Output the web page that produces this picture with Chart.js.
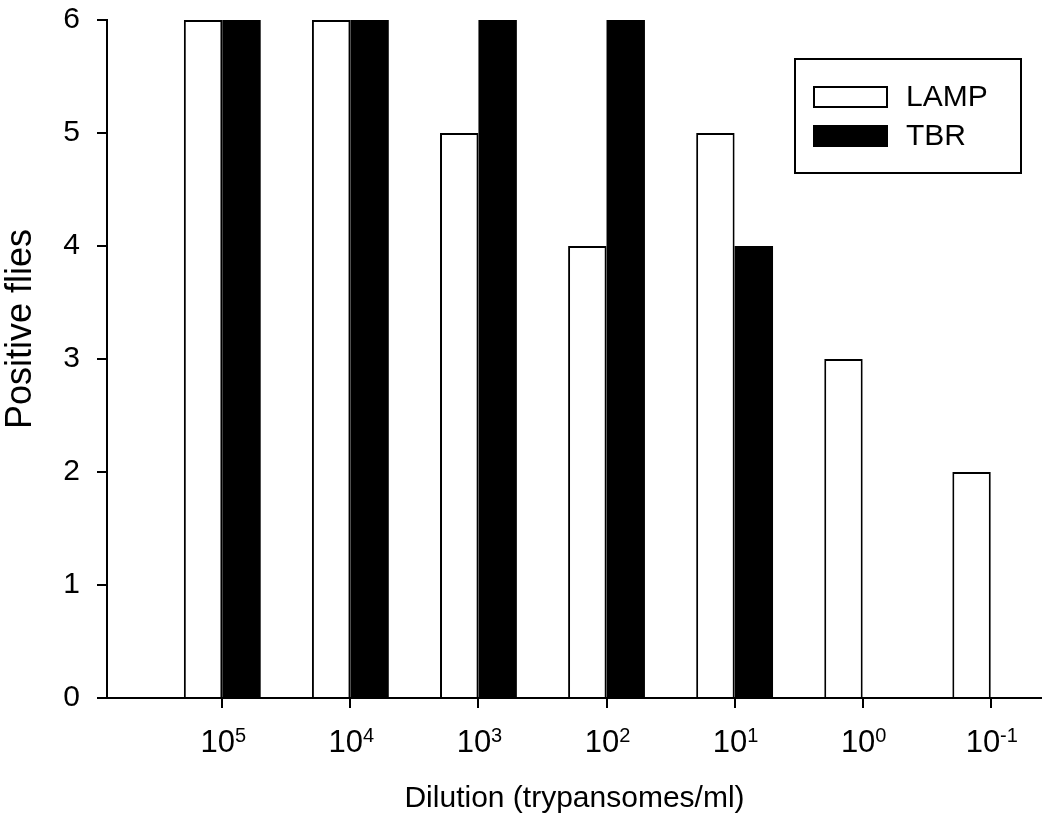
<!DOCTYPE html>
<html>
<head>
<meta charset="utf-8">
<title>Positive flies by dilution</title>
<script src="https://cdn.jsdelivr.net/npm/chart.js@4.4.1/dist/chart.umd.min.js"></script>
<style>
  html, body { margin: 0; padding: 0; background: #fff; }
  #wrap { width: 1042px; height: 820px; }
</style>
</head>
<body>
<div id="wrap"><canvas id="fliesChart"></canvas></div>
<script>
// Data
const dilutionBase = '10';
const dilutionExponents = ['5', '4', '3', '2', '1', '0', '-1'];
const lampValues = [6, 6, 5, 4, 5, 3, 2];
const tbrValues = [6, 6, 6, 6, 4, 0, 0];
const yTicks = [0, 1, 2, 3, 4, 5, 6];

const FONT = "'Liberation Sans', Arial, Helvetica, sans-serif";

// bars sit on a linear x scale so the axis can run past the first/last group
const toPoints = (arr) => arr.map((v, i) => ({ x: i, y: v }));

// boxed legend like the original (Chart.js legend has no frame)
const boxLegend = {
    id: 'boxLegend',
    afterDraw(chart, args, opts) {
        const ctx = chart.ctx;
        ctx.save();
        ctx.lineWidth = 2;
        ctx.strokeStyle = '#000';
        ctx.strokeRect(opts.x, opts.y, opts.w, opts.h);
        ctx.font = '30px ' + FONT;
        ctx.textBaseline = 'middle';
        chart.data.datasets.forEach((ds, i) => {
            const cy = opts.y + opts.firstRow + i * opts.rowGap;
            ctx.fillStyle = ds.backgroundColor;
            ctx.fillRect(opts.x + 19, cy - 10, 73, 20);
            ctx.lineWidth = 2;
            ctx.strokeRect(opts.x + 19, cy - 10, 73, 20);
            ctx.fillStyle = '#000';
            ctx.fillText(ds.label, opts.x + 111, cy + 1);
        });
        ctx.restore();
    }
};

// x tick labels as 10 with a raised exponent
const powerLabels = {
    id: 'powerLabels',
    afterDraw(chart) {
        const ctx = chart.ctx;
        const xs = chart.scales.x;
        const baseY = xs.top + 54;
        ctx.save();
        ctx.fillStyle = '#000';
        ctx.textBaseline = 'alphabetic';
        ctx.textAlign = 'left';
        dilutionExponents.forEach((exp, i) => {
            ctx.font = '31px ' + FONT;
            const wb = ctx.measureText(dilutionBase).width;
            ctx.font = '20px ' + FONT;
            const we = ctx.measureText(exp).width;
            const left = xs.getPixelForValue(i) - (wb + we) / 2 + 1;
            ctx.font = '31px ' + FONT;
            ctx.fillText(dilutionBase, left, baseY);
            ctx.font = '20px ' + FONT;
            ctx.fillText(exp, left + wb, baseY - 10);
        });
        ctx.restore();
    }
};

// y title sits a bit above the middle of the axis in the original
const yTitle = {
    id: 'yTitle',
    afterDraw(chart, args, opts) {
        const { ctx, chartArea } = chart;
        ctx.save();
        ctx.translate(21, (chartArea.top + chartArea.bottom) / 2 - 30);
        ctx.rotate(-Math.PI / 2);
        ctx.font = '36px ' + FONT;
        ctx.fillStyle = '#000';
        ctx.textAlign = 'center';
        ctx.textBaseline = 'middle';
        ctx.fillText(opts.text, 0, 0);
        ctx.restore();
    }
};

// x axis line runs a little left of the y axis in the original
const axisStub = {
    id: 'axisStub',
    afterDraw(chart) {
        const { ctx, chartArea } = chart;
        ctx.save();
        ctx.strokeStyle = '#000';
        ctx.lineWidth = 2;
        ctx.beginPath();
        ctx.moveTo(chartArea.left - 10, chartArea.bottom);
        ctx.lineTo(chartArea.left, chartArea.bottom);
        ctx.stroke();
        ctx.restore();
    }
};

const config = {
    type: 'bar',
    data: {
        datasets: [
            {
                label: 'LAMP',
                data: toPoints(lampValues),
                backgroundColor: '#ffffff',
                borderColor: '#000000',
                borderWidth: 2,
                categoryPercentage: 0.6,
                barPercentage: 1.0
            },
            {
                label: 'TBR',
                data: toPoints(tbrValues),
                backgroundColor: '#000000',
                borderColor: '#000000',
                borderWidth: 0,
                categoryPercentage: 0.6,
                barPercentage: 1.0
            }
        ]
    },
    options: {
        responsive: true,
        maintainAspectRatio: false,
        animation: false,
        layout: { padding: { top: 20, right: 0, bottom: 0, left: 0 } },
        plugins: {
            legend: { display: false },
            tooltip: { enabled: false },
            boxLegend: { x: 795, y: 59, w: 226, h: 114, firstRow: 38, rowGap: 39 },
            yTitle: { text: 'Positive flies' }
        },
        scales: {
            x: {
                type: 'linear',
                min: -0.9,
                max: 6.4,
                offset: false,
                afterBuildTicks: (axis) => {
                    axis.ticks = dilutionExponents.map((_, i) => ({ value: i }));
                },
                afterFit: (axis) => { axis.height = 122; },
                ticks: { display: false },
                grid: {
                    offset: false,
                    drawOnChartArea: false,
                    drawTicks: true,
                    tickLength: 10,
                    color: '#000',
                    lineWidth: 2
                },
                border: { display: true, color: '#000', width: 2 },
                title: {
                    display: true,
                    text: 'Dilution (trypansomes/ml)',
                    color: '#000',
                    font: { family: FONT, size: 30 },
                    padding: { top: 0, bottom: 3 }
                }
            },
            y: {
                min: 0,
                max: 6,
                afterBuildTicks: (axis) => {
                    axis.ticks = yTicks.map(v => ({ value: v }));
                },
                afterFit: (axis) => {
                    axis.width = 107;
                    axis.paddingTop = 0;
                },
                ticks: {
                    color: '#000',
                    font: { family: FONT, size: 30 },
                    padding: 17
                },
                grid: {
                    drawOnChartArea: false,
                    drawTicks: true,
                    tickLength: 10,
                    color: '#000',
                    lineWidth: 2
                },
                border: { display: true, color: '#000', width: 2 },
                title: { display: false }
            }
        }
    },
    plugins: [boxLegend, powerLabels, yTitle, axisStub]
};

const ctx = document.getElementById('fliesChart').getContext('2d');
const fliesChart = new Chart(ctx, config);
</script>
</body>
</html>
